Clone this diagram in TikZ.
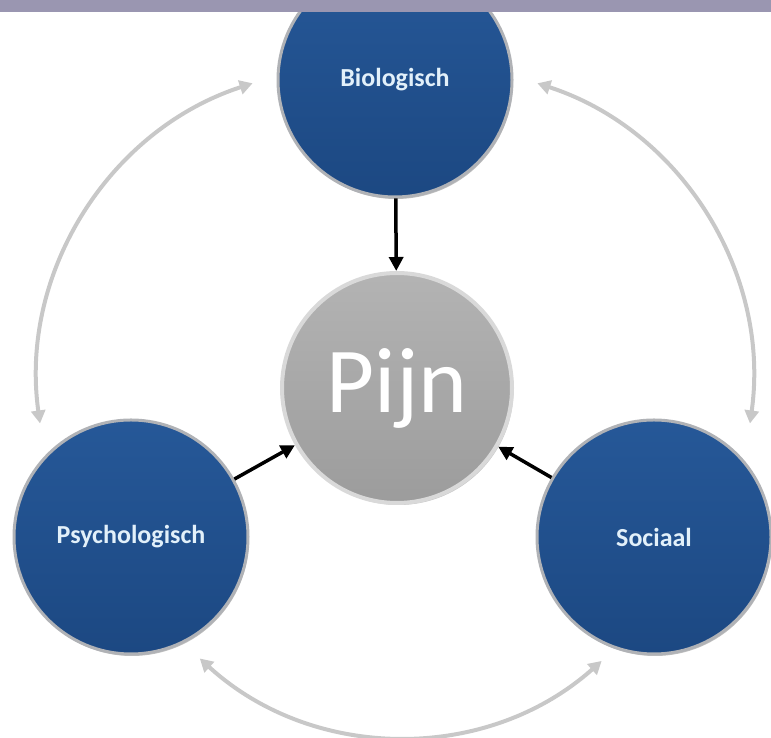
\documentclass[tikz,border=0pt]{standalone}
\usepackage{fontspec}
\setmainfont{Carlito}
\usetikzlibrary{arrows.meta,shadows}

\definecolor{barpurple}{RGB}{154,150,177}
\definecolor{factortop}{RGB}{38,88,152}
\definecolor{factorbot}{RGB}{28,72,130}
\definecolor{factorrim}{RGB}{176,178,182}
\definecolor{pijngray}{RGB}{166,166,166}
\definecolor{feedgray}{RGB}{200,200,200}
\definecolor{labelblue}{RGB}{226,240,250}

\tikzset{
  factor/.style={circle, minimum size=234pt, inner sep=0pt, draw=factorrim, line width=3pt,
    top color=factortop, bottom color=factorbot, text=labelblue,
    drop shadow={shadow xshift=1pt, shadow yshift=-2pt, opacity=0.5},
    font=\bfseries\fontsize{26}{30}\selectfont},
  core/.style={circle, minimum size=230pt, inner sep=0pt, draw=black!15, line width=4pt,
    top color=pijngray!85!white, bottom color=pijngray!94!black, text=white,
    drop shadow={shadow xshift=1.5pt, shadow yshift=-2pt, opacity=0.45},
    font=\fontsize{93}{100}\selectfont},
  cause/.style={line width=3.5pt, -{Triangle[length=14pt,width=14pt]}},
  feedback/.style={feedgray, line width=4pt, {Triangle[length=13pt,width=14pt]}-{Triangle[length=13pt,width=14pt]}}
}

\begin{document}
\begin{tikzpicture}[x=1pt, y=1pt]

\useasboundingbox (0,0) rectangle (771,738);
\clip (0,0) rectangle (771,738);

% Free ends of the feedback arcs
\coordinate (bio-psy) at (252.6,654.7);
\coordinate (bio-soc) at (537.4,654.7);
\coordinate (psy-soc) at (199.8,79.5);

% Draw the feedback arcs
\draw[feedback] (bio-psy) arc[start angle=108, end angle=188, radius=312];
\draw[feedback] (bio-soc) arc[start angle=72, end angle=-8, radius=312];
\draw[feedback] (psy-soc) arc[start angle=227.6, end angle=311.7, radius=300];

% The three factors and the centre
\node[factor] (bio) at (395,658) {Biologisch};
\node[factor] (psy) at (131,201) {Psychologisch};
\node[factor] (soc) at (654,201) {Sociaal};
\node[core] (pijn) at (397,350) {\raisebox{-4pt}{Pijn}};

% Draw the causes
\foreach \src in {bio, psy, soc}
  \draw[cause] (\src) -- (pijn);

% Top bar
\fill[barpurple] (0,726) rectangle (771,738);

\end{tikzpicture}
\end{document}
